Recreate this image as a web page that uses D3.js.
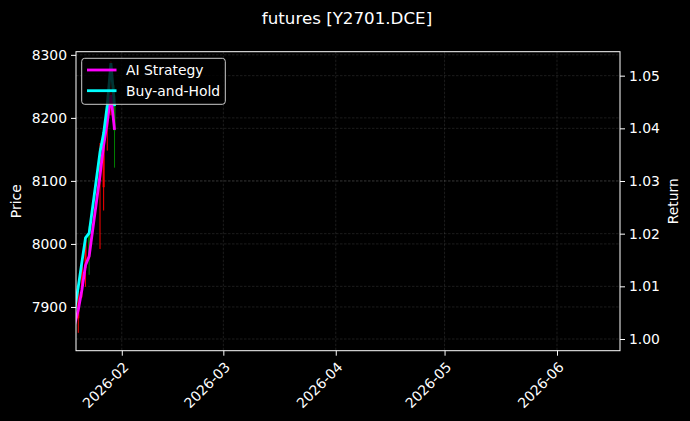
<!DOCTYPE html>
<html>
<head>
<meta charset="utf-8">
<script src="https://cdn.jsdelivr.net/npm/d3@7"></script>
<style>
  body { margin: 0; background: #000; }
  svg { display: block; font-family: "DejaVu Sans", sans-serif; }
</style>
</head>
<body>
<div id="chart"></div>
<script>
// daily bars, Y2701.DCE
var dates  = ["2026-01-19","2026-01-20","2026-01-21","2026-01-22","2026-01-23",
              "2026-01-26","2026-01-27","2026-01-28","2026-01-29","2026-01-30"];
var opens  = [7870, 7882, 7926, 7962, 8015, 8100, 8090, 8185, 8228, 8236];
var highs  = [7912, 7936, 7975, 8012, 8028, 8160, 8186, 8236, 8290, 8252];
var lows   = [7858, 7859, 7915, 7932, 7951, 7992, 8053, 8148, 8204, 8121];
var closes = [7900, 7925, 7966, 8006, 7980, 8152, 8176, 8226, 8240, 8180];

var aiStrategy  = [1.0027, 1.0055, 1.0093, 1.0140, 1.0157, 1.0311, 1.0368, 1.0412, 1.0463, 1.0397];
var buyAndHold  = [1.0055, 1.0099, 1.0146, 1.0192, 1.0201, 1.0355, 1.0391, 1.0444, 1.0524, 1.0442];

var priceTicks  = [7900, 8000, 8100, 8200, 8300];
var returnTicks = [1.00, 1.01, 1.02, 1.03, 1.04, 1.05];

var width = 690, height = 421;
var pLeft = 76, pRight = 620, pTop = 51.7, pBottom = 350.7;

var parse = d3.timeParse("%Y-%m-%d");
var bars = dates.map(function(d, i) {
  return { t: parse(d), o: opens[i], h: highs[i], l: lows[i], c: closes[i],
           ai: aiStrategy[i], bh: buyAndHold[i] };
});

var svg = d3.select("#chart").append("svg")
  .attr("width", width).attr("height", height);
svg.append("rect").attr("width", width).attr("height", height).attr("fill", "#000");

var x = d3.scaleTime()
  .domain([new Date(2026, 0, 19, 9), new Date(2026, 5, 18, 9)])
  .range([pLeft, pRight]);
var yP = d3.scaleLinear().domain([7830.6, 8305]).range([pBottom, pTop]);
var yR = d3.scaleLinear().domain([0.99778, 1.05455]).range([pBottom, pTop]);

svg.append("clipPath").attr("id", "plot")
  .append("rect").attr("x", pLeft).attr("y", pTop)
  .attr("width", pRight - pLeft).attr("height", pBottom - pTop);

// grid
var grid = svg.append("g").attr("stroke", "#fff").attr("stroke-opacity", 0.22)
  .attr("stroke-width", 0.5).attr("stroke-dasharray", "2.5,1.5");
var months = x.ticks(d3.timeMonth.every(1));
grid.selectAll(".gx").data(months).enter().append("line")
  .attr("x1", function(d) { return x(d); }).attr("x2", function(d) { return x(d); })
  .attr("y1", pTop).attr("y2", pBottom);
grid.selectAll(".gp").data(priceTicks).enter().append("line")
  .attr("x1", pLeft).attr("x2", pRight)
  .attr("y1", function(d) { return yP(d); }).attr("y2", function(d) { return yP(d); });
grid.selectAll(".gr").data(returnTicks).enter().append("line")
  .attr("x1", pLeft).attr("x2", pRight)
  .attr("y1", function(d) { return yR(d); }).attr("y2", function(d) { return yR(d); });

var plot = svg.append("g").attr("clip-path", "url(#plot)");

// candles
var day = x(new Date(2026, 0, 2)) - x(new Date(2026, 0, 1));
var candle = plot.selectAll(".candle").data(bars).enter().append("g");
candle.append("line")
  .attr("x1", function(d) { return x(d.t); }).attr("x2", function(d) { return x(d.t); })
  .attr("y1", function(d) { return yP(d.h); }).attr("y2", function(d) { return yP(d.l); })
  .attr("stroke", function(d) { return d.c >= d.o ? "#ff0000" : "#008000"; })
  .attr("stroke-width", 1);
candle.append("rect")
  .attr("x", function(d) { return x(d.t) - day * 0.3; })
  .attr("width", day * 0.6)
  .attr("y", function(d) { return yP(Math.max(d.o, d.c)); })
  .attr("height", function(d) { return Math.max(0.8, Math.abs(yP(d.o) - yP(d.c))); })
  .attr("fill", function(d) { return d.c >= d.o ? "#ff0000" : "#008000"; })
  .attr("opacity", 0.85);

// return lines
var lineAI = d3.line().x(function(d) { return x(d.t); }).y(function(d) { return yR(d.ai); });
var lineBH = d3.line().x(function(d) { return x(d.t); }).y(function(d) { return yR(d.bh); });
plot.append("path").datum(bars).attr("d", lineAI)
  .attr("fill", "none").attr("stroke", "#ff00ff").attr("stroke-width", 2.8);
plot.append("path").datum(bars).attr("d", lineBH)
  .attr("fill", "none").attr("stroke", "#00ffff").attr("stroke-width", 2.8);

// axes
function styleAxis(g) {
  g.selectAll("path").attr("stroke", "#fff");
  g.selectAll("line").attr("stroke", "#fff");
  g.selectAll("text").attr("fill", "#fff").style("font-size", "13.9px")
    .style("font-family", "DejaVu Sans, sans-serif");
}
var xAxis = svg.append("g").attr("transform", "translate(0," + pBottom + ")")
  .call(d3.axisBottom(x).ticks(d3.timeMonth.every(1)).tickFormat(d3.timeFormat("%Y-%m"))
    .tickSizeInner(5).tickSizeOuter(0).tickPadding(4));
styleAxis(xAxis);
xAxis.selectAll("text")
  .attr("text-anchor", "end")
  .attr("transform", "translate(-4,6) rotate(-45)")
  .attr("dy", "0.5em");

var yAxisL = svg.append("g").attr("transform", "translate(" + pLeft + ",0)")
  .call(d3.axisLeft(yP).tickValues(priceTicks).tickFormat(d3.format("d"))
    .tickSizeInner(5).tickSizeOuter(0).tickPadding(4));
styleAxis(yAxisL);
var yAxisR = svg.append("g").attr("transform", "translate(" + pRight + ",0)")
  .call(d3.axisRight(yR).tickValues(returnTicks).tickFormat(d3.format(".2f"))
    .tickSizeInner(5).tickSizeOuter(0).tickPadding(4));
styleAxis(yAxisR);
[xAxis, yAxisL, yAxisR].forEach(function(g) { g.select(".domain").remove(); });

// frame
svg.append("rect").attr("x", pLeft).attr("y", pTop)
  .attr("width", pRight - pLeft).attr("height", pBottom - pTop)
  .attr("fill", "none").attr("stroke", "#fff").attr("stroke-width", 1);

// labels
svg.append("text").attr("x", 347).attr("y", 24).attr("text-anchor", "middle")
  .attr("fill", "#fff").style("font-size", "16.7px").text("futures [Y2701.DCE]");
svg.append("text").attr("transform", "translate(21," + ((pTop + pBottom) / 2) + ") rotate(-90)")
  .attr("text-anchor", "middle").attr("fill", "#fff").style("font-size", "13.9px").text("Price");
svg.append("text").attr("transform", "translate(678," + ((pTop + pBottom) / 2) + ") rotate(-90)")
  .attr("text-anchor", "middle").attr("fill", "#fff").style("font-size", "13.9px").text("Return");

// legend
var legendItems = [{ name: "AI Strategy", color: "#ff00ff" }, { name: "Buy-and-Hold", color: "#00ffff" }];
var legend = svg.append("g");
legend.append("rect").attr("x", 81.7).attr("y", 58.3).attr("width", 143.6).attr("height", 46)
  .attr("rx", 3).attr("fill", "#000").attr("fill-opacity", 0.8)
  .attr("stroke", "#ccc").attr("stroke-width", 1);
var li = legend.selectAll(".li").data(legendItems).enter().append("g")
  .attr("transform", function(d, i) { return "translate(0," + (70 + i * 20.7) + ")"; });
li.append("line").attr("x1", 87).attr("x2", 116.5)
  .attr("stroke", function(d) { return d.color; }).attr("stroke-width", 2.8);
li.append("text").attr("x", 126).attr("y", 5).attr("fill", "#fff")
  .style("font-size", "13.9px").text(function(d) { return d.name; });
</script>
</body>
</html>
